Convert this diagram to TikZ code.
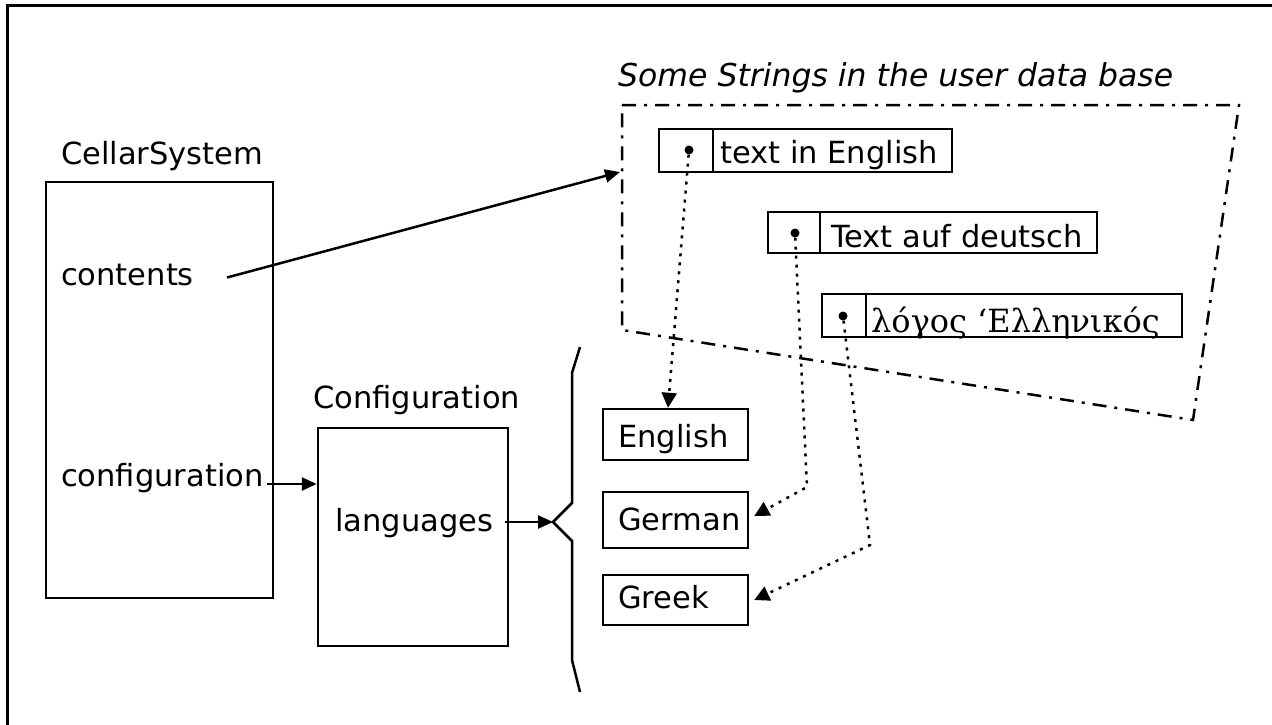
\documentclass[tikz,border=0pt]{standalone}
\usepackage{fontspec}
\setmainfont{DejaVu Sans}
\newfontfamily\greekfont{DejaVu Serif}
\usetikzlibrary{arrows.meta}

\tikzset{
  box/.style={draw, line width=2.5pt, inner sep=0pt},
  txt/.style={inner sep=0pt, anchor=base west, font=\fontsize{30.5}{36}\selectfont},
  ptr/.style={-{Triangle[length=15pt,width=13pt]}, line width=2.5pt},
  dotptr/.style={-{Triangle[length=15pt,width=15pt]}, line width=2.5pt,
                 dash pattern=on 3pt off 6pt},
  region/.style={line width=2.5pt, dash pattern=on 14pt off 8pt on 3pt off 8pt},
  refdot/.style={circle, fill, inner sep=0pt, minimum size=9pt},
}

\begin{document}
\begin{tikzpicture}[x=1pt, y=-1pt]
\useasboundingbox (0,0) rectangle (1272,725);

% window frame (top and left edges)
\draw[line width=3pt] (7,725) -- (7,6) -- (1272,6);

% CellarSystem object
\node[txt] (cellarlbl) at (61,164) {CellarSystem};
\node[box, minimum width=227, minimum height=416] (cellar) at (159.5,390) {};
\node[txt] (contents) at (61,285) {contents};
\node[txt] (cfgslot) at (61,486) {configuration};

% Configuration object
\node[txt] (cfglbl) at (313,408) {Configuration};
\node[box, minimum width=190, minimum height=218] (cfg) at (413,537) {};
\node[txt] (langs) at (335,531) {languages};

% set of language objects
\node[box, minimum width=145, minimum height=51] (english) at (675.5,434.5) {};
\node[txt] (englishtxt) at (618,447) {English};
\node[box, minimum width=145, minimum height=56] (german) at (675.5,520) {};
\node[txt] (germantxt) at (618,530) {German};
\node[box, minimum width=145, minimum height=50] (greek) at (675.5,600) {};
\node[txt] (greektxt) at (618,608) {Greek};

% brace grouping the languages
\coordinate (bracetip) at (553,522);
\draw[line width=2.5pt] (580,347) -- (572,373) -- (572,503) -- (bracetip)
  -- (572,541) -- (572,660) -- (580,692);

% user data base region
\node[txt, font=\fontsize{31.5}{36}\selectfont\itshape] (dblbl) at (618,87)
  {Some Strings in the user data base};
\draw[region] (622,105) -- (1239,105) -- (1193,420) -- (622,330) -- cycle;
\coordinate (dbin) at (620,172);

% strings: reference cell + text cell
\node[box, minimum width=54, minimum height=43] (eref) at (686,150.5) {};
\node[box, minimum width=239, minimum height=43] (ecell) at (832.5,150.5) {};
\node[txt] (etxt) at (720,163) {text in English};
\node[refdot] (edot) at (689,150) {};

\node[box, minimum width=52, minimum height=41] (gref) at (794,232.5) {};
\node[box, minimum width=277, minimum height=41] (gcell) at (958.5,232.5) {};
\node[txt] (gtxt) at (831,247) {Text auf deutsch};
\node[refdot] (gdot) at (795,233) {};

\node[box, minimum width=44, minimum height=43] (kref) at (844,315.5) {};
\node[box, minimum width=316, minimum height=43] (kcell) at (1024,315.5) {};
\node[txt, font=\fontsize{32}{36}\greekfont] (ktxt) at (871,332) {λόγος ‘Ελληνικός};
\node[refdot] (kdot) at (843,316) {};

% connectors
\draw[ptr] ([xshift=33pt,yshift=-3pt]contents.east) -- (dbin);
\draw[ptr] ([xshift=3pt,yshift=2pt]cfgslot.base east) -- ([yshift=2pt]cfgslot.base east -| cfg.west);
\draw[ptr] ([xshift=12pt]langs.east |- bracetip) -- (bracetip);

\draw[dotptr] (edot) -- ([xshift=-7.5pt]english.north);
\draw[dotptr] (gdot) -- (807,487) -- ([xshift=5pt,yshift=4pt]german.east);
\draw[dotptr] (kdot) -- (870,545) -- ([xshift=5pt]greek.east);
\end{tikzpicture}
\end{document}
